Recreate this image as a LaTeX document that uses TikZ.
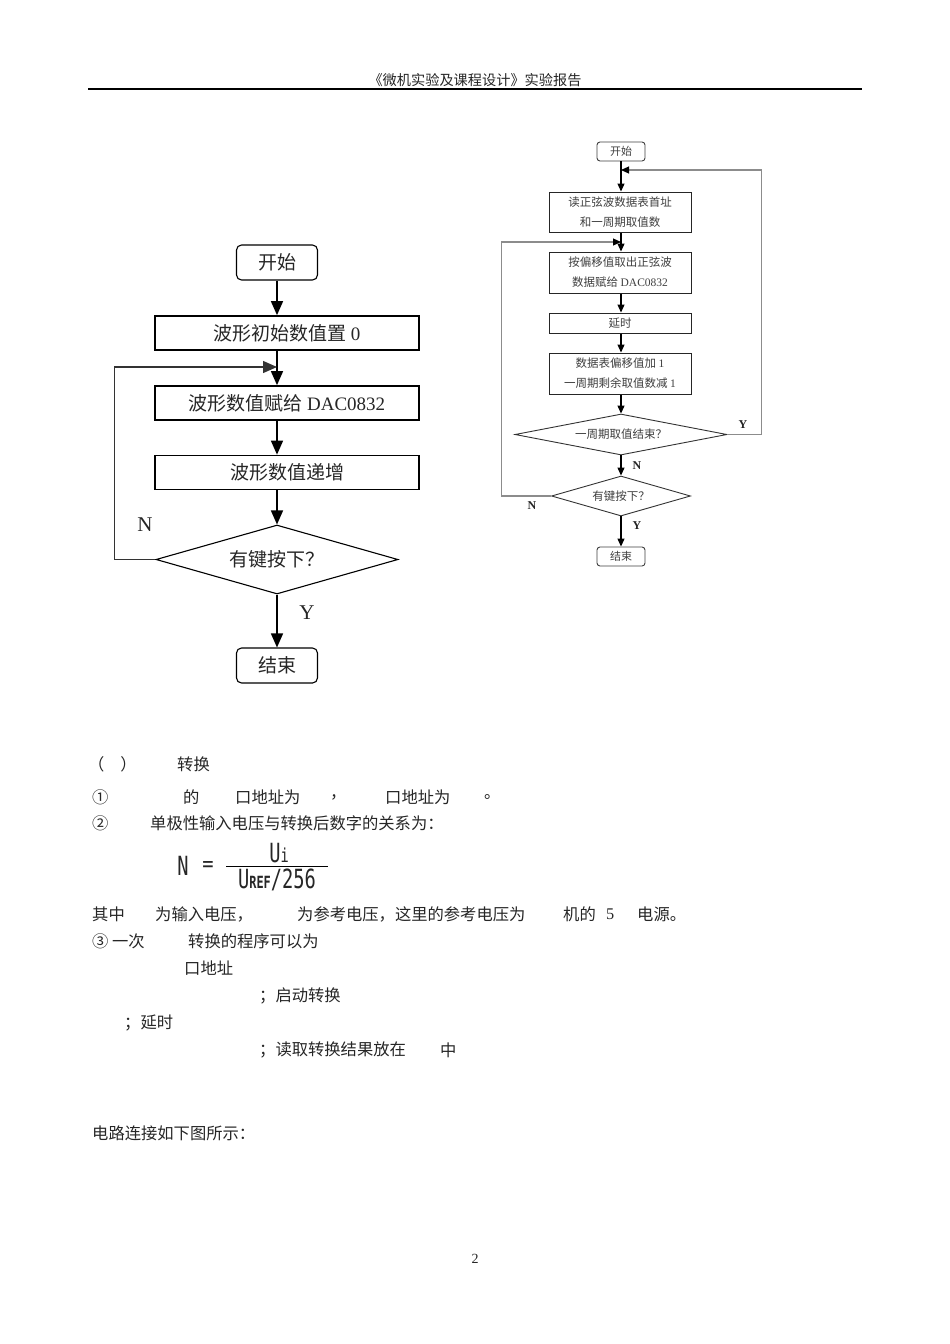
\documentclass[tikz,border=0pt]{standalone}
\usepackage{fontspec}
\setmainfont{Liberation Serif}
\newfontfamily\cjk{Noto Sans CJK SC}
\newfontfamily\eqfont{DejaVu Sans Mono}
\usetikzlibrary{arrows.meta,shapes.geometric}

\newcommand{\zhfont}[2]{\cjk\fontsize{#1}{#2}\selectfont}

\begin{document}
\begin{tikzpicture}[x=1pt,y=-1pt,
    every node/.style={inner sep=0pt},
    txt/.style={anchor=west, text=black!85, font=\zhfont{16.3}{16.3}},
    lterm/.style={draw, rounded corners=5pt, line width=1.1pt, minimum width=81pt, minimum height=35pt, text=black!85, font=\zhfont{19}{19}},
    lproc/.style={draw, line width=1.7pt, minimum width=264pt, minimum height=34pt, text=black!85, font=\zhfont{19}{19}},
    ldia/.style={draw, diamond, aspect=3.5, line width=1.1pt, minimum width=242pt, minimum height=69pt, text=black!85, font=\zhfont{19}{19}},
    larr/.style={line width=1.4pt, -{Triangle[width=12pt,length=14pt]}},
    llab/.style={text=black!85, font=\fontsize{21}{21}\selectfont},
    rterm/.style={draw=black!75, rounded corners=3pt, line width=0.9pt, minimum width=48pt, minimum height=19pt, text=black!75, font=\zhfont{11}{11}},
    rproc/.style={draw=black!85, line width=1pt, minimum width=142pt, align=center, text=black!75, font=\zhfont{11.5}{20}},
    rdia/.style={draw=black!80, diamond, line width=0.9pt, text=black!75, font=\zhfont{11.5}{11.5}},
    rarr/.style={line width=1.2pt, -{Triangle[width=7pt,length=8pt]}},
    rloop/.style={draw=black!45, line width=1.1pt, -{Triangle[width=7pt,length=8pt,color=black]}},
    rlab/.style={text=black!85, font=\bfseries\fontsize{12}{12}\selectfont},
    eq/.style={text=black!85, font=\eqfont\fontsize{22}{22}\selectfont}]

  \fill[white] (0,0) rectangle (950,1344);
  \useasboundingbox (0,0) rectangle (950,1344);

  % page head
  \node[text=black!85, font=\zhfont{14.2}{14.2}] (head) at (475,80) {《微机实验及课程设计》实验报告};
  \draw[line width=1.5pt] (88,89) -- (862,89);

  % left chart
  \node[lterm] (lstart) at (277,262.5) {开始};
  \node[lproc] (linit) at (287,333) {波形初始数值置 {\rmfamily 0}};
  \coordinate (lmerge) at (277,367);
  \node[lproc] (lset) at (287,403) {波形数值赋给 {\rmfamily DAC0832}};
  \node[lproc] (lstep) at (287,472.5) {波形数值递增};
  \node[ldia] (ldec) at (277,559.5) {有键按下？};
  \node[lterm] (lend) at (277,665.5) {结束};

  \draw[larr] (lstart.south) -- (lstart.south |- linit.north);
  \draw[larr] (linit.south -| lmerge) -- (lset.north -| lmerge);
  \draw[larr] (lset.south -| lmerge) -- (lstep.north -| lmerge);
  \draw[larr] (lstep.south -| lmerge) -- (ldec.north);
  \draw[larr] (ldec.south) -- (lend.north);
  \draw[larr, line width=1.3pt, draw=black!80] (ldec.west) -- ++(-41,0) |- (lmerge);
  \node[llab] (ln) at (145,525) {N};
  \node[llab] (ly) at (307,613) {Y};

  % right chart
  \node[rterm] (rstart) at (621,151.5) {开始};
  \coordinate (rmerge1) at (621,170);
  \node[rproc, minimum height=40pt] (rread) at (620,212) {读正弦波数据表首址\\和一周期取值数};
  \coordinate (rmerge2) at (621,242);
  \node[rproc, minimum height=41pt] (rout) at (620,272.5) {按偏移值取出正弦波\\数据赋给 {\rmfamily DAC0832}};
  \node[rproc, minimum height=20pt] (rdelay) at (620,323) {延时};
  \node[rproc, minimum height=41pt] (rnext) at (620,373.5) {数据表偏移值加 {\rmfamily 1}\\一周期剩余取值数减 {\rmfamily 1}};
  \node[rdia, aspect=5.2, minimum width=212pt, minimum height=41pt] (rdec1) at (621,434.5) {一周期取值结束？};
  \node[rdia, aspect=3.5, minimum width=139pt, minimum height=40pt] (rdec2) at (621,496) {有键按下？};
  \node[rterm] (rend) at (621,556.5) {结束};

  \draw[rarr] (rstart.south) -- (rread.north -| rstart);
  \draw[rarr] (rread.south -| rmerge2) -- (rout.north -| rmerge2);
  \draw[rarr] (rout.south -| rmerge2) -- (rdelay.north -| rmerge2);
  \draw[rarr] (rdelay.south -| rmerge2) -- (rnext.north -| rmerge2);
  \draw[rarr] (rnext.south -| rmerge2) -- (rdec1.north);
  \draw[rarr] (rdec1.south) -- (rdec2.north);
  \draw[rarr] (rdec2.south) -- (rend.north);
  \draw[rloop] (rdec1.east) -- ++(34,0) |- (rmerge1);
  \draw[rloop] (rdec2.west) -- ++(-50,0) |- (rmerge2);
  \node[rlab] (ry1) at (743,425) {Y};
  \node[rlab] (rn1) at (637,466) {N};
  \node[rlab] (rn2) at (532,506) {N};
  \node[rlab] (ry2) at (637,526) {Y};

  % text below
  \node[txt] (s1) at (88,764) {（\hspace{16pt}）};
  \node[txt] (s2) at (177,764) {转换};
  \node[txt] (a1) at (92,797) {①};
  \node[txt] (a2) at (183,797) {的};
  \node[txt] (a3) at (235,797) {口地址为};
  \node[txt] (a4) at (330,797) {，};
  \node[txt] (a5) at (385,797) {口地址为};
  \node[txt] (a6) at (484,797) {。};
  \node[txt] (b1) at (92,823) {②};
  \node[txt] (b2) at (150,823) {单极性输入电压与转换后数字的关系为：};

  \node[eq] (fn) at (183,866) {\scalebox{0.85}[1.2]{N}};
  \node[eq] (feq) at (208,866) {\scalebox{0.85}[1]{=}};
  \draw[line width=1pt] (226,866) -- (328,866);
  \node[eq] (fnum) at (279,853) {\scalebox{0.85}[1.2]{U{\fontsize{16}{16}\selectfont i}}};
  \node[eq] (fden) at (277,880) {\scalebox{0.85}[1.2]{U{\fontsize{14}{14}\selectfont\bfseries REF}/256}};

  \node[txt] (c1) at (92,914) {其中};
  \node[txt] (c2) at (155,914) {为输入电压，};
  \node[txt] (c3) at (297,914) {为参考电压，这里的参考电压为};
  \node[txt] (c4) at (563,914) {机的};
  \node[txt] (c5) at (606,914) {\rmfamily 5};
  \node[txt] (c6) at (637,914) {电源。};
  \node[txt] (d1) at (92,941) {③ 一次};
  \node[txt] (d2) at (188,941) {转换的程序可以为};
  \node[txt] (e1) at (184,968) {口地址};
  \node[txt] (e2) at (259,996) {；启动转换};
  \node[txt] (e3) at (124,1023) {；延时};
  \node[txt] (e4) at (259,1050) {；读取转换结果放在};
  \node[txt] (e5) at (440,1050) {中};
  \node[txt] (g1) at (92,1133) {电路连接如下图所示：};

  \node[text=black!85, font=\fontsize{14}{14}\selectfont] (page) at (475,1259) {2};
\end{tikzpicture}
\end{document}
